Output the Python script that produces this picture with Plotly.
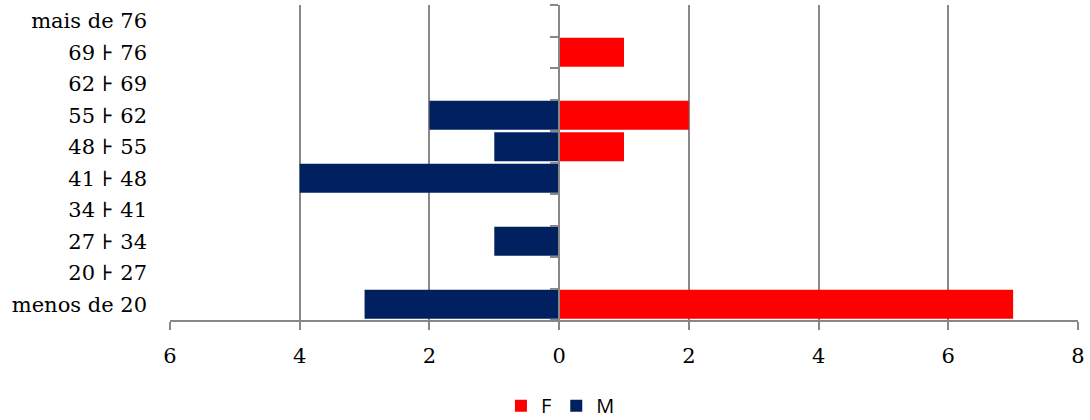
import plotly.graph_objects as go

categories = ["menos de 20", "20 ⊦ 27", "27 ⊦ 34", "34 ⊦ 41", "41 ⊦ 48",
              "48 ⊦ 55", "55 ⊦ 62", "62 ⊦ 69", "69 ⊦ 76", "mais de 76"]
F_values = [7, 0, 0, 0, 0, 1, 2, 0, 1, 0]
M_values = [3, 0, 1, 0, 4, 1, 2, 0, 0, 0]
x_tickvals = [-6, -4, -2, 0, 2, 4, 6, 8]
x_ticktext = ["6", "4", "2", "0", "2", "4", "6", "8"]

GRAY = "#888888"
serif = "DejaVu Serif"

fig = go.Figure()
fig.add_trace(go.Bar(y=categories, x=F_values, orientation="h", name="F",
                     marker=dict(color="#FF0000", line=dict(width=0))))
fig.add_trace(go.Bar(y=categories, x=[-v for v in M_values], orientation="h", name="M",
                     marker=dict(color="#002060", line=dict(width=0))))
fig.add_trace(go.Scatter(y=categories, x=[0] * len(categories), yaxis="y2",
                         mode="markers", marker=dict(opacity=0), showlegend=False,
                         hoverinfo="skip"))

fig.update_layout(
    width=1090, height=420,
    margin=dict(l=170, r=12, t=5, b=100, autoexpand=False),
    paper_bgcolor="white", plot_bgcolor="white",
    barmode="relative", bargap=0.08,
    font=dict(family=serif, size=21, color="#000000"),
    xaxis=dict(range=[-6, 8], tickvals=x_tickvals, ticktext=x_ticktext,
               showgrid=True, gridcolor=GRAY, gridwidth=1.5, automargin=False,
               zeroline=False, showline=True, linecolor=GRAY, linewidth=1.5,
               ticks="outside", ticklen=8, tickcolor=GRAY, tickwidth=1.5,
               ticklabelstandoff=8,
               tickfont=dict(family=serif, size=21)),
    yaxis=dict(type="category", categoryorder="array", categoryarray=categories,
               range=[-0.5, 9.5], showgrid=False, showline=False, ticks="",
               zeroline=False, ticklabelstandoff=22, automargin=False,
               tickfont=dict(family=serif, size=21)),
    yaxis2=dict(type="category", categoryorder="array", categoryarray=categories,
                range=[-0.5, 9.5], overlaying="y", anchor="free", position=6 / 14,
                side="left", showline=True, linecolor=GRAY, linewidth=1.5,
                automargin=False,
                ticks="outside", tickson="boundaries", ticklen=8, tickcolor=GRAY,
                tickwidth=1.5, showticklabels=False, showgrid=False, zeroline=False),
    legend=dict(orientation="h", x=0.43, xanchor="center", y=-0.21, yanchor="top",
                font=dict(family="Open Sans", size=20), itemwidth=30,
                traceorder="normal"),
    showlegend=True,
)

fig.write_html("out.html", config={"displayModeBar": False},
               post_script="document.body.style.margin='0px';document.body.style.padding='0px';")
